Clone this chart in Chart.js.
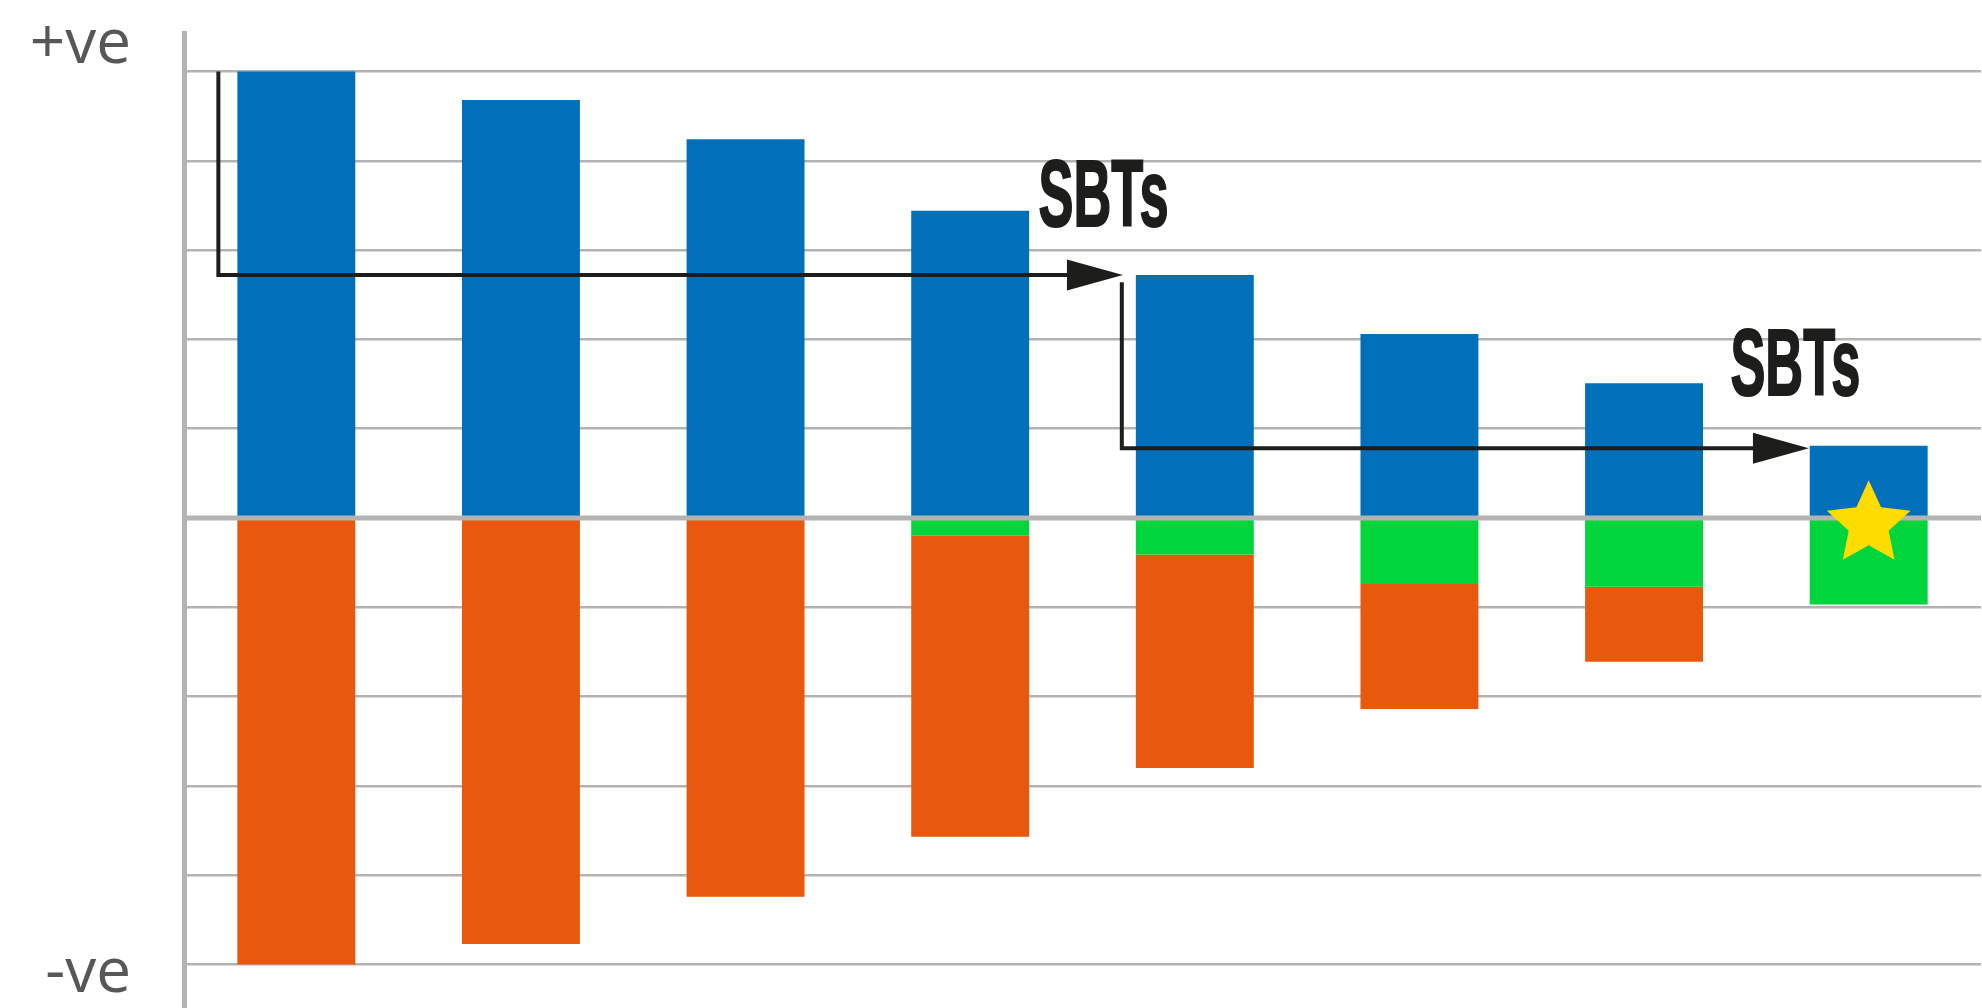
<!DOCTYPE html>
<html>
<head>
<meta charset="utf-8">
<title>SBTs</title>
<script src="https://cdn.jsdelivr.net/npm/chart.js@4.4.1/dist/chart.umd.min.js"></script>
<style>
    html, body { margin: 0; padding: 0; background: #ffffff; }
    #wrap { position: relative; width: 1982px; height: 1008px; }
</style>
</head>
<body>
<div id="wrap"><canvas id="sbtChart"></canvas></div>
<script>
// Categories (the picture shows no category labels)
const categories = ['1', '2', '3', '4', '5', '6', '7', '8'];

// Values in gridline units (one gridline step = 1)
const blueValues   = [5.0, 4.68, 4.24, 3.44, 2.72, 2.06, 1.51, 0.81];
const greenValues  = [0, 0, 0, -0.20, -0.41, -0.74, -0.77, -0.97];
const orangeValues = [-5.0, -4.77, -4.24, -3.37, -2.39, -1.40, -0.84, 0];

// Gridline values and axis texts
const gridTicks = [-5, -4, -3, -2, -1, 0, 1, 2, 3, 4, 5];
const axisLabels = ['+ve', '-ve'];
const arrowLabel = 'SBTs';

// Annotation anchors in data units: [category index, value]
const arrowPaths = [
    [[-0.347, 5], [-0.347, 2.72], [3.68, 2.72]],
    [[3.675, 2.64], [3.675, 0.78], [6.734, 0.78]]
];
const labelAnchors = [[3.3, 3.26], [6.38, 1.37]];
const starAnchor = [7, -0.07];

const GRID = '#b3b3b3';
const INK = '#1d1d1b';

function drawStar(ctx, cx, cy, outer, inner) {
    ctx.beginPath();
    for (let i = 0; i < 10; i++) {
        const r = i % 2 === 0 ? outer : inner;
        const a = -Math.PI / 2 + i * Math.PI / 5;
        const px = cx + r * Math.cos(a);
        const py = cy + r * Math.sin(a);
        if (i === 0) ctx.moveTo(px, py); else ctx.lineTo(px, py);
    }
    ctx.closePath();
    ctx.fill();
}

// Zero line, arrows, labels and star drawn over the bars
const overlayPlugin = {
    id: 'overlay',
    afterDatasetsDraw(chart) {
        const ctx = chart.ctx;
        const xs = chart.scales.x;
        const ys = chart.scales.y;
        const area = chart.chartArea;
        ctx.save();

        // thick zero line
        const y0 = ys.getPixelForValue(0);
        ctx.strokeStyle = GRID;
        ctx.lineWidth = 5;
        ctx.beginPath();
        ctx.moveTo(area.left, y0);
        ctx.lineTo(area.right, y0);
        ctx.stroke();

        // +ve / -ve
        ctx.fillStyle = '#575756';
        ctx.font = '62px "Open Sans", sans-serif';
        ctx.textAlign = 'right';
        ctx.textBaseline = 'alphabetic';
        ctx.fillText(axisLabels[0], area.left - 53, area.top + 30);
        ctx.fillText(axisLabels[1], area.left - 53, area.bottom - 16);

        // arrows
        const headLen = 56, headHalf = 15.5;
        ctx.strokeStyle = INK;
        ctx.fillStyle = INK;
        ctx.lineWidth = 4;
        ctx.lineJoin = 'miter';
        arrowPaths.forEach(function(path) {
            const pts = path.map(function(p) {
                return [xs.getPixelForValue(p[0]), ys.getPixelForValue(p[1])];
            });
            const tip = pts[pts.length - 1];
            ctx.beginPath();
            ctx.moveTo(pts[0][0], pts[0][1]);
            for (let i = 1; i < pts.length - 1; i++) ctx.lineTo(pts[i][0], pts[i][1]);
            ctx.lineTo(tip[0] - headLen + 4, tip[1]);
            ctx.stroke();
            ctx.beginPath();
            ctx.moveTo(tip[0], tip[1]);
            ctx.lineTo(tip[0] - headLen, tip[1] - headHalf);
            ctx.lineTo(tip[0] - headLen, tip[1] + headHalf);
            ctx.closePath();
            ctx.fill();
        });

        // SBTs labels, squeezed to a condensed look, slightly thickened
        ctx.font = 'bold 94px "Liberation Sans Narrow", "Liberation Sans", sans-serif';
        ctx.textAlign = 'left';
        const targetWidth = 130;
        const squeeze = targetWidth / ctx.measureText(arrowLabel).width;
        labelAnchors.forEach(function(a) {
            const lx = xs.getPixelForValue(a[0]) + 1;
            const ly = ys.getPixelForValue(a[1]) - 1;
            ctx.save();
            ctx.translate(lx, ly);
            ctx.scale(squeeze, 1);
            ctx.lineWidth = 2;
            ctx.lineJoin = 'miter';
            ctx.fillText(arrowLabel, 0, 0);
            ctx.strokeText(arrowLabel, 0, 0);
            ctx.restore();
        });

        // star on the last bar
        ctx.fillStyle = '#ffdc00';
        drawStar(ctx, xs.getPixelForValue(starAnchor[0]), ys.getPixelForValue(starAnchor[1]), 44, 21);

        ctx.restore();
    }
};

new Chart(document.getElementById('sbtChart'), {
    type: 'bar',
    data: {
        labels: categories,
        datasets: [
            { label: 'Positive', data: blueValues, backgroundColor: '#0070ba' },
            { label: 'Green', data: greenValues, backgroundColor: '#00d53c' },
            { label: 'Orange', data: orangeValues, backgroundColor: '#e9590d' }
        ]
    },
    options: {
        responsive: true,
        maintainAspectRatio: false,
        animation: false,
        layout: { padding: { top: 33, right: 1, bottom: 0, left: 0 } },
        datasets: {
            bar: {
                barPercentage: 0.525,
                categoryPercentage: 1,
                borderWidth: 0
            }
        },
        plugins: {
            legend: { display: false },
            tooltip: { enabled: false }
        },
        scales: {
            x: {
                stacked: true,
                display: false
            },
            y: {
                stacked: true,
                min: -5.487,
                max: 5.431,
                afterFit: function(scale) { scale.width = 184; },
                afterBuildTicks: function(scale) {
                    scale.ticks = gridTicks.map(function(v) { return { value: v }; });
                },
                ticks: { display: false },
                grid: {
                    drawTicks: false,
                    color: GRID,
                    lineWidth: 2.5
                },
                border: {
                    display: true,
                    color: GRID,
                    width: 5
                }
            }
        }
    },
    plugins: [overlayPlugin]
});
</script>
</body>
</html>
